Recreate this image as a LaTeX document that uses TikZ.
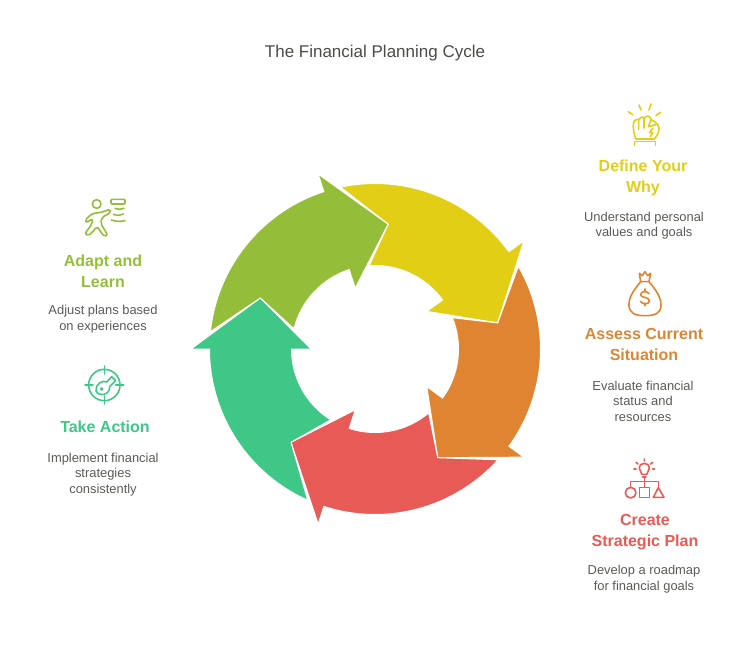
\documentclass[tikz,border=0pt]{standalone}
\usepackage{fontspec}
\setmainfont{Liberation Sans}
\usepackage{xcolor}
\usepackage{tikz}
\usetikzlibrary{calc}
\definecolor{cyellow}{HTML}{E1CE15}
\definecolor{corange}{HTML}{DF8532}
\definecolor{cred}{HTML}{E85A55}
\definecolor{cteal}{HTML}{3EC786}
\definecolor{clime}{HTML}{94BE3A}
\definecolor{ctext}{HTML}{5A5A56}
\definecolor{ctitle}{HTML}{4A4A46}
\tikzstyle{title} = [text = ctitle, font = \fontsize{17}{20}\selectfont, inner sep = 0]
\tikzstyle{heading} = [align = center, inner sep = 0, font = \fontsize{16}{21}\selectfont\bfseries]
\tikzstyle{desc} = [align = center, inner sep = 0, text = ctext, font = \fontsize{12.9}{15.5}\selectfont]
\tikzstyle{icon} = [line width = 1.6pt, line cap = round, line join = round, x = 0.3333pt, y = -0.3333pt]
% colour, angle of the arrow before, angle of this head
\newcommand{\cyclearrow}[3]{
  \fill [#1, draw = white, line width = 1pt, line join = miter]
    (#2-6:165.5pt) arc [start angle = #2-6, end angle = #3, radius = 165.5pt]
    -- (#3:184pt) -- (#3-24:125.5pt) -- (#3:64pt) -- (#3:83.5pt)
    arc [start angle = #3, end angle = #2-14, radius = 83.5pt]
    -- (#2-24:125.5pt) -- cycle;
}

\begin{document}
\begin{tikzpicture}[x = 1pt, y = -1pt]
\useasboundingbox (0, 0) rectangle (750, 657);

\node [title] (title) at (375, 53) {The Financial Planning Cycle};

% the ring
\begin{scope}[shift = {(375, 349)}]
\cyclearrow{cyellow}{108}{36}
\cyclearrow{corange}{36}{-36}
\cyclearrow{cred}{-36}{-108}
\cyclearrow{cteal}{-108}{-180}
\cyclearrow{clime}{180}{108}
\end{scope}

% texts
\node [heading, text = cyellow] (why) at (643, 178) {Define Your\\Why};
\node [desc] (whytext) at (644, 225.5) {Understand personal\\values and goals};
\node [heading, text = corange] (assess) at (644, 344) {Assess Current\\Situation};
\node [desc] (assesstext) at (643, 401) {Evaluate financial\\status and\\resources};
\node [heading, text = cred] (plan) at (645, 532) {Create\\Strategic Plan};
\node [desc] (plantext) at (644, 579) {Develop a roadmap\\for financial goals};
\node [heading, text = cteal] (action) at (105, 427) {Take Action};
\node [desc] (actiontext) at (103, 474.5) {Implement financial\\strategies\\consistently};
\node [heading, text = clime] (adapt) at (103, 271) {Adapt and\\Learn};
\node [desc] (adapttext) at (103, 319) {Adjust plans based\\on experiences};

% fist
\begin{scope}[shift = {(615, 100)}, icon, draw = cyellow]
\draw (40, 35) -- (53, 44) (72, 15) -- (78, 30) (108, 12) -- (102, 30) (137, 37) -- (123, 46);
\draw (62, 117) .. controls (56, 100) and (54, 85) .. (55, 72) .. controls (56, 60) and (66, 56) .. (72, 58)
  .. controls (78, 50) and (86, 50) .. (89, 53) .. controls (94, 46) and (106, 46) .. (109, 60)
  .. controls (126, 66) and (136, 80) .. (131, 95) .. controls (128, 105) and (122, 112) .. (118, 117) -- cycle;
\draw (71, 60) -- (71, 88) (87, 54) -- (87, 84) (108, 60) -- (100, 80) -- (122, 74);
\draw (114, 84) -- (104, 98) -- (113, 98) -- (106, 110);
\draw (58, 136) -- (58, 124) -- (122, 124) -- (122, 136);
\end{scope}

% money bag
\begin{scope}[shift = {(600, 265)}, icon, draw = corange]
\draw (118, 25) -- (127, 32) -- (135, 20) -- (143, 32) -- (152, 25) -- (147, 50) -- (122, 50) -- cycle;
\draw (122, 50) .. controls (105, 72) and (85, 95) .. (87, 122) .. controls (89, 145) and (105, 152) .. (135, 152)
  .. controls (165, 152) and (182, 145) .. (183, 122) .. controls (184, 95) and (165, 72) .. (147, 50);
\draw (147, 86) .. controls (140, 76) and (121, 78) .. (122, 90) .. controls (123, 99) and (147, 95) .. (148, 107)
  .. controls (149, 119) and (128, 119) .. (121, 109);
\draw (135, 72) -- (135, 80) (135, 115) -- (135, 122);
\end{scope}

% bulb and shapes
\begin{scope}[shift = {(610, 455)}, icon, draw = cred]
\draw (96, 58) .. controls (96, 50) and (88, 50) .. (88, 40) .. controls (88, 20) and (118, 20) .. (118, 40)
  .. controls (118, 50) and (110, 50) .. (110, 58) -- cycle;
\draw (103, 12) -- (103, 18) (78, 22) -- (84, 27) (128, 22) -- (122, 27) (72, 42) -- (78, 42) (128, 42) -- (134, 42);
\draw (98, 66) -- (108, 66) (103, 66) -- (103, 95) (62, 80) -- (145, 80) (62, 80) -- (62, 97) (145, 80) -- (145, 98);
\draw (62, 113) circle [radius = 16];
\draw (88, 97) rectangle (118, 128);
\draw (145, 98) -- (130, 127) -- (162, 127) -- cycle;
\end{scope}

% runner
\begin{scope}[shift = {(70, 190)}, icon, draw = clime]
\draw (80, 42) circle [radius = 13];
\draw [rounded corners = 2pt] (45, 90) -- (68, 70) -- (90, 68) -- (120, 58) -- (122, 68) -- (96, 82) -- (92, 100)
  -- (113, 135) -- (102, 140) -- (82, 110) -- (55, 138) -- (45, 130) -- (66, 102) -- (68, 86) -- (50, 98) -- cycle;
\draw [rounded corners = 1pt] (123, 28) rectangle (165, 42);
\draw (135, 55) .. controls (145, 59) and (152, 59) .. (162, 55);
\draw (130, 73) .. controls (142, 77) and (152, 77) .. (160, 72);
\draw (124, 90) .. controls (138, 95) and (152, 95) .. (165, 92);
\end{scope}

% target and key
\begin{scope}[shift = {(75, 360)}, icon, draw = cteal]
\draw (88, 75) circle [radius = 47];
\draw (88, 18) -- (88, 42) (88, 108) -- (88, 132) (30, 75) -- (54, 75) (122, 75) -- (146, 75);
\draw (95, 66) -- (110, 50) -- (122, 62) -- (104, 80) .. controls (106, 105) and (70, 112) .. (63, 92)
  .. controls (60, 72) and (85, 58) .. (95, 66) -- cycle;
\draw (80, 87) circle [radius = 3];
\end{scope}
\end{tikzpicture}
\end{document}
